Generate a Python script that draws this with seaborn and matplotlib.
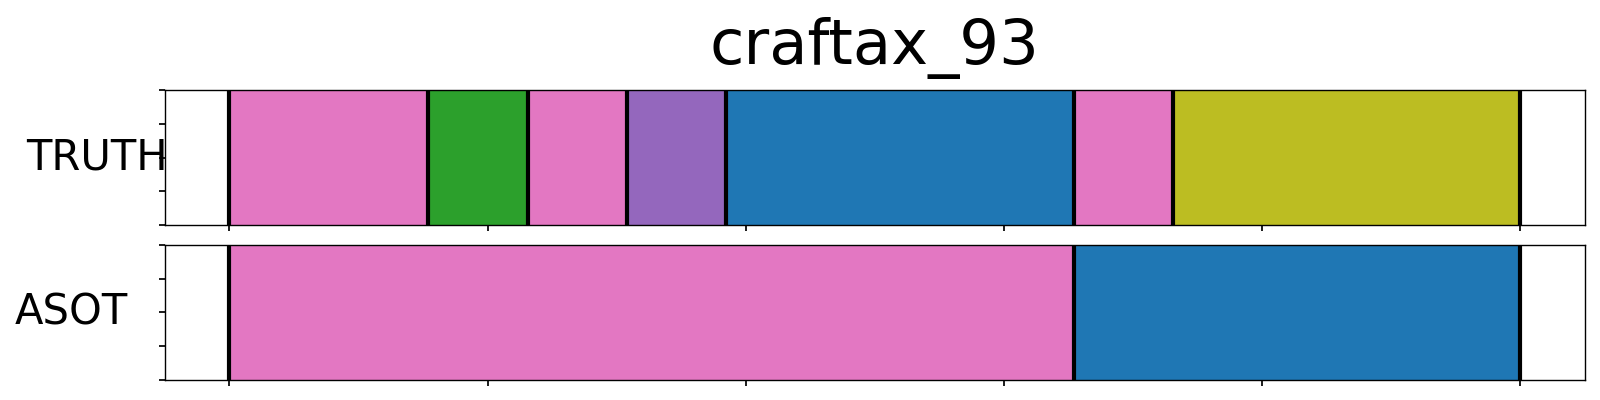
import matplotlib
matplotlib.use("Agg")
import matplotlib.pyplot as plt
import seaborn as sns

# segment boundaries (frame index) and class ids (tab10 palette index)
episode = "craftax_93"
n_frames = 1000
truth_bounds = [0, 154, 231, 308, 385, 654, 731, 1000]
truth_classes = [6, 2, 6, 4, 0, 6, 8]
asot_bounds = [0, 654, 1000]
asot_classes = [6, 0]
rows = ["TRUTH", "ASOT"]
label_x = [-0.048, -0.066]


def draw_segments(ax, bounds, classes, palette):
    starts = bounds[:-1]
    widths = [b - a for a, b in zip(bounds[:-1], bounds[1:])]
    colors = [palette[c] for c in classes]
    ax.barh([0.5] * len(starts), widths, left=starts, height=1.0, color=colors, linewidth=0)
    for b in bounds:
        ax.axvline(b, color="black", linewidth=3)


sns.set_theme(style="ticks", rc={
    "axes.edgecolor": "black",
    "axes.labelcolor": "black",
    "text.color": "black",
    "xtick.color": "black",
    "ytick.color": "black",
    "axes.linewidth": 1.0,
})
plt.rcParams["font.family"] = ["DejaVu Sans"]
palette = sns.color_palette("tab10")

fig, axes = plt.subplots(2, 1, figsize=(16, 4), dpi=100, sharex=True)
fig.subplots_adjust(left=0.103, right=0.9906, top=0.775, bottom=0.05, hspace=0.148)

for ax, name, bounds, classes, lx in zip(axes, rows, [truth_bounds, asot_bounds],
                                         [truth_classes, asot_classes], label_x):
    draw_segments(ax, bounds, classes, palette)
    ax.set_ylim(0, 1)
    ax.set_xlim(-0.05 * n_frames, 1.05 * n_frames)
    ax.set_yticks([0, 0.25, 0.5, 0.75, 1.0])
    ax.set_yticklabels([])
    ax.set_xticks(range(0, n_frames + 1, 200))
    ax.tick_params(labelbottom=False, length=4)
    ax.set_ylabel(name, rotation=0, fontsize=30, va="center", ha="center")
    ax.yaxis.set_label_coords(lx, 0.5)

axes[0].set_title(episode, fontsize=45, pad=19)

plt.savefig("out.png")
plt.close()
